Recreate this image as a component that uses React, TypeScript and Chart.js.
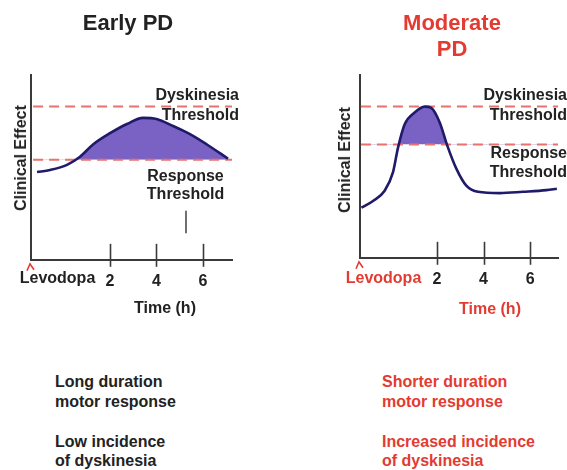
import React, { useEffect, useRef } from "react";
import { Chart, registerables } from "chart.js";

Chart.register(...registerables);

// ---------- data ----------
const timeTickValues = [2, 4, 6];
const originLabel = "Levodopa";

const earlyRange = [-1.4, 7.25];
const earlyTime = [-1.14, -0.58, 0.15, 0.71, 1.27, 2.0, 2.73, 3.42, 4.0, 4.71, 5.44, 6.17, 7.08];
const earlyEffect = [4.75, 4.86, 5.14, 5.58, 6.24, 6.85, 7.35, 7.68, 7.62, 7.24, 6.8, 6.24, 5.47];
const earlyDyskinesia = 8.29;
const earlyResponse = 5.41;
const earlyThresholdSpan = [-1.31, 7.25];
const earlyMarkTime = [5.27, 5.27];
const earlyMarkEffect = [2.65, 1.44];

const moderateRange = [-1.31, 7.2];
const moderateTime = [-1.25, -0.75, -0.25, 0.11, 0.32, 0.61, 1.04, 1.47, 1.75, 2.12, 2.43, 2.83, 3.26, 3.76, 4.69, 5.69, 6.7, 7.15];
const moderateEffect = [2.74, 3.11, 3.67, 4.69, 6.0, 7.3, 7.95, 8.27, 8.2, 7.39, 6.18, 4.88, 3.95, 3.61, 3.54, 3.61, 3.7, 3.78];
const moderateDyskinesia = 8.27;
const moderateResponse = 6.2;
const moderateThresholdSpan = [-1.27, 7.2];

// ---------- styles ----------
const FONT = '"Liberation Sans", Arial, Helvetica, sans-serif';
const RED = "#e33b31";
const DARK = "#222222";
const CURVE = "#1f1a6a";
const FILL = "#7a62c4";
const DASH = "#e8726e";
const AXIS = "#3a3a3a";

const pts = (xs: number[], ys: number[]) => xs.map((x, i) => ({ x, y: ys[i] }));
const hline = (span: number[], y: number) => span.map((x) => ({ x, y }));

const tickMarkPlugin = {
  id: "tickMarks",
  afterDraw(chart: any) {
    const { ctx, chartArea, scales } = chart;
    const xs = scales.x;
    ctx.save();
    ctx.strokeStyle = AXIS;
    ctx.lineWidth = 1.6;
    timeTickValues.forEach((v) => {
      const px = Math.round(xs.getPixelForValue(v)) + 0.5;
      ctx.beginPath();
      ctx.moveTo(px, chartArea.bottom - 16);
      ctx.lineTo(px, chartArea.bottom + 7);
      ctx.stroke();
    });
    // red caret marking the dose at the origin
    const ox = xs.getPixelForValue(xs.min);
    ctx.strokeStyle = RED;
    ctx.lineWidth = 1.6;
    ctx.beginPath();
    ctx.moveTo(ox - 4, chartArea.bottom + 11);
    ctx.lineTo(ox - 1, chartArea.bottom + 4);
    ctx.lineTo(ox + 3, chartArea.bottom + 10);
    ctx.stroke();
    ctx.restore();
  },
};

function Panel(props: {
  left: number;
  width: number;
  height: number;
  padding: { left: number; right: number; top: number; bottom: number };
  range: number[];
  time: number[];
  effect: number[];
  dysk: number;
  resp: number;
  span: number[];
  markTime?: number[];
  markEffect?: number[];
}) {
  const ref = useRef<HTMLCanvasElement>(null);
  useEffect(() => {
    const datasets: any[] = [
      {
        data: pts(props.time, props.effect),
        borderColor: CURVE,
        borderWidth: 2.6,
        pointRadius: 0,
        cubicInterpolationMode: "monotone",
        fill: { target: { value: props.resp }, above: FILL, below: "rgba(0,0,0,0)" },
      },
      {
        data: hline(props.span, props.dysk),
        borderColor: DASH,
        borderWidth: 2,
        borderDash: [10, 6],
        pointRadius: 0,
        fill: false,
      },
      {
        data: hline(props.span, props.resp),
        borderColor: DASH,
        borderWidth: 2,
        borderDash: [10, 6],
        pointRadius: 0,
        fill: false,
      },
    ];
    if (props.markTime && props.markEffect) {
      datasets.push({
        data: pts(props.markTime, props.markEffect),
        borderColor: "#333",
        borderWidth: 1.4,
        pointRadius: 0,
        fill: false,
      });
    }
    const chart = new Chart(ref.current as HTMLCanvasElement, {
      type: "line",
      data: { datasets },
      options: {
        animation: false,
        responsive: true,
        maintainAspectRatio: false,
        layout: { padding: props.padding },
        plugins: {
          legend: { display: false },
          tooltip: { enabled: false },
          filler: { drawTime: "beforeDatasetsDraw" },
        } as any,
        scales: {
          x: {
            type: "linear",
            min: props.range[0],
            max: props.range[1],
            grid: { display: false, drawTicks: false },
            border: { display: true, color: AXIS, width: 2 },
            afterBuildTicks: (axis: any) => {
              axis.ticks = timeTickValues.map((v) => ({ value: v }));
            },
            ticks: {
              autoSkip: false,
              maxRotation: 0,
              padding: 12,
              color: DARK,
              font: { family: FONT, size: 16, weight: "bold" },
              callback: (v: any) => String(v),
            },
          },
          y: {
            type: "linear",
            min: 0,
            max: 10,
            grid: { display: false, drawTicks: false },
            border: { display: true, color: AXIS, width: 2 },
            ticks: { display: false },
          },
        },
      } as any,
      plugins: [tickMarkPlugin],
    });
    return () => chart.destroy();
  }, []);
  return (
    <div style={{ position: "absolute", left: props.left, top: 0, width: props.width, height: props.height }}>
      <canvas ref={ref} />
    </div>
  );
}

function T(props: {
  x: number;
  base: number;
  size?: number;
  align?: "left" | "center" | "right";
  color?: string;
  children: React.ReactNode;
}) {
  const size = props.size ?? 16;
  const align = props.align ?? "left";
  const tx = align === "center" ? "translateX(-50%)" : align === "right" ? "translateX(-100%)" : "none";
  return (
    <div
      style={{
        position: "absolute",
        left: props.x,
        top: props.base - 0.8465 * size,
        fontSize: size,
        lineHeight: `${size}px`,
        fontWeight: "bold",
        fontFamily: FONT,
        color: props.color ?? DARK,
        whiteSpace: "nowrap",
        transform: tx,
        pointerEvents: "none",
      }}
    >
      {props.children}
    </div>
  );
}

function VText(props: { cx: number; cy: number; color?: string; children: React.ReactNode }) {
  return (
    <div
      style={{
        position: "absolute",
        left: props.cx,
        top: props.cy,
        fontSize: 16,
        lineHeight: "16px",
        fontWeight: "bold",
        fontFamily: FONT,
        color: props.color ?? DARK,
        whiteSpace: "nowrap",
        transform: "translate(-50%, -50%) rotate(-90deg)",
        pointerEvents: "none",
      }}
    >
      {props.children}
    </div>
  );
}

export default function App() {
  return (
    <div
      style={{
        position: "fixed",
        left: 0,
        top: 0,
        width: 567,
        height: 470,
        background: "#ffffff",
        overflow: "hidden",
      }}
    >
      <Panel
        left={0}
        width={283}
        height={315}
        padding={{ left: 31, right: 51, top: 75, bottom: 12 }}
        range={earlyRange}
        time={earlyTime}
        effect={earlyEffect}
        dysk={earlyDyskinesia}
        resp={earlyResponse}
        span={earlyThresholdSpan}
        markTime={earlyMarkTime}
        markEffect={earlyMarkEffect}
      />
      <Panel
        left={283}
        width={284}
        height={315}
        padding={{ left: 77, right: 9, top: 75, bottom: 14 }}
        range={moderateRange}
        time={moderateTime}
        effect={moderateEffect}
        dysk={moderateDyskinesia}
        resp={moderateResponse}
        span={moderateThresholdSpan}
      />

      {/* titles */}
      <T x={128} base={30.5} size={22} align="center">Early PD</T>
      <T x={452} base={30.5} size={22} align="center" color={RED}>Moderate</T>
      <T x={452} base={57} size={22} align="center" color={RED}>PD</T>

      {/* y-axis titles */}
      <VText cx={20.5} cy={158}>Clinical Effect</VText>
      <VText cx={344.5} cy={160}>Clinical Effect</VText>

      {/* threshold labels, left */}
      <T x={239} base={101} align="right">Dyskinesia</T>
      <T x={239} base={120.5} align="right">Threshold</T>
      <T x={185.5} base={181.5} align="center">Response</T>
      <T x={185.5} base={200} align="center">Threshold</T>

      {/* threshold labels, right */}
      <T x={567} base={101} align="right">Dyskinesia</T>
      <T x={567} base={121} align="right">Threshold</T>
      <T x={567} base={159} align="right">Response</T>
      <T x={567} base={178} align="right">Threshold</T>

      {/* origin labels and axis titles */}
      <T x={57.5} base={284} align="center">{originLabel}</T>
      <T x={383.5} base={283.5} align="center" color={RED}>{originLabel}</T>
      <T x={165} base={314} align="center">Time (h)</T>
      <T x={490} base={315} align="center" color={RED}>Time (h)</T>

      {/* bottom notes */}
      <T x={55} base={388}>Long duration</T>
      <T x={55} base={408}>motor response</T>
      <T x={55} base={448}>Low incidence</T>
      <T x={55} base={467}>of dyskinesia</T>

      <T x={382} base={388} color={RED}>Shorter duration</T>
      <T x={382} base={408} color={RED}>motor response</T>
      <T x={382} base={448} color={RED}>Increased incidence</T>
      <T x={382} base={467} color={RED}>of dyskinesia</T>
    </div>
  );
}
